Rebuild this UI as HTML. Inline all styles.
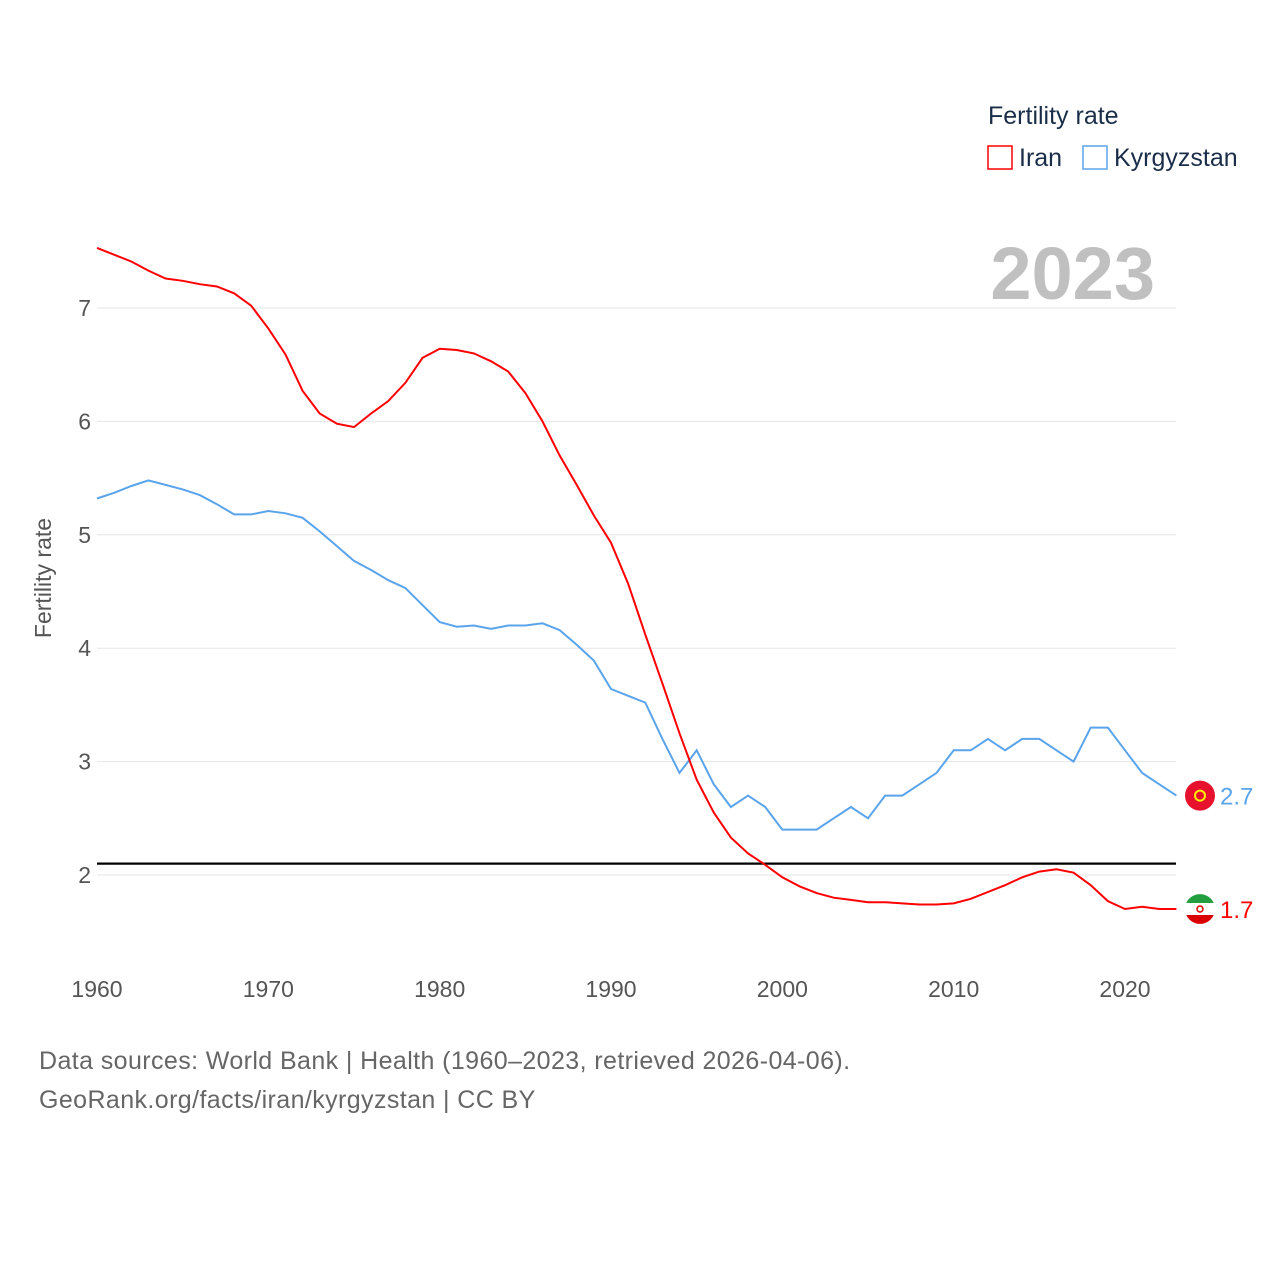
<!DOCTYPE html>
<html><head><meta charset="utf-8">
<style>
body{margin:0;background:#fff;}
svg text{font-family:"Liberation Sans",sans-serif;}
</style></head>
<body>
<svg id="chart" width="1280" height="1280" viewBox="0 0 1280 1280">
<g>
<text x="988" y="124" font-size="25" fill="#1a2e4a">Fertility rate</text>
<rect x="988" y="146" width="24" height="23" fill="none" stroke="#ff0000" stroke-width="1.5"/>
<text x="1019" y="166" font-size="25" fill="#1a2e4a">Iran</text>
<rect x="1083" y="146" width="24" height="23" fill="none" stroke="#5aa4ec" stroke-width="1.5"/>
<text x="1114" y="166" font-size="25" fill="#1a2e4a">Kyrgyzstan</text>
</g>
<text x="1155" y="299" font-size="74" font-weight="bold" fill="#c0c0c0" text-anchor="end">2023</text>
<g id="grid"></g>
<g id="axes"></g>
<g id="series"></g>
<text transform="translate(51,578) rotate(-90)" font-size="23" fill="#555" text-anchor="middle">Fertility rate</text>
<text x="39" y="1069" font-size="25" fill="#666" letter-spacing="0.4">Data sources: World Bank | Health (1960–2023, retrieved 2026-04-06).</text>
<text x="39" y="1108" font-size="25" fill="#666" letter-spacing="0.4">GeoRank.org/facts/iran/kyrgyzstan | CC BY</text>
</svg>
<script>
const years = [];for(let y=1960;y<=2023;y++)years.push(y);
const iranValues=[7.53,7.47,7.41,7.33,7.26,7.24,7.21,7.19,7.13,7.02,6.82,6.59,6.27,6.07,5.98,5.95,6.07,6.18,6.34,6.56,6.64,6.63,6.6,6.53,6.44,6.25,6.0,5.7,5.44,5.17,4.93,4.57,4.12,3.69,3.25,2.84,2.55,2.33,2.19,2.09,1.98,1.9,1.84,1.8,1.78,1.76,1.76,1.75,1.74,1.74,1.75,1.79,1.85,1.91,1.98,2.03,2.05,2.02,1.91,1.77,1.7,1.72,1.7,1.7];
const kyrValues=[5.32,5.37,5.43,5.48,5.44,5.4,5.35,5.27,5.18,5.18,5.21,5.19,5.15,5.03,4.9,4.77,4.69,4.6,4.53,4.38,4.23,4.19,4.2,4.17,4.2,4.2,4.22,4.16,4.03,3.89,3.64,3.58,3.52,3.2,2.9,3.1,2.8,2.6,2.7,2.6,2.4,2.4,2.4,2.5,2.6,2.5,2.7,2.7,2.8,2.9,3.1,3.1,3.2,3.1,3.2,3.2,3.1,3.0,3.3,3.3,3.1,2.9,2.8,2.7];
const yTicks=[2,3,4,5,6,7];
const xTicks=[1960,1970,1980,1990,2000,2010,2020];
const replacementRate=[2.1];
const NS="http://www.w3.org/2000/svg";
const xs=y=>97+(y-1960)*(1028/60);
const ys=v=>875-(v-2)*113.4;
function mk(tag,attrs,parent,text){const e=document.createElementNS(NS,tag);for(const k in attrs)e.setAttribute(k,attrs[k]);if(text!==undefined)e.textContent=text;document.getElementById(parent).appendChild(e);return e;}
yTicks.forEach(t=>{
 const l=mk('line',{x1:97,x2:1176,y1:ys(t),y2:ys(t),stroke:'#e6e6e6','stroke-width':1},'grid');
 
 
 const tx=mk('text',{x:91,y:ys(t)+8,'font-size':23,fill:'#555','text-anchor':'end'},'axes',String(t));
 
 
});
xTicks.forEach(t=>{
 const tx=mk('text',{x:xs(t),y:997,'font-size':23,fill:'#555','text-anchor':'middle'},'axes',String(t));
 
 
});
replacementRate.forEach(v=>{
 const l=mk('line',{x1:97,x2:1176,y1:ys(v),y2:ys(v),stroke:'#000','stroke-width':2.2},'series');
 
 
});
function series(vals,color,name){
 const d=vals.map((v,i)=>(i?'L':'M')+xs(years[i]).toFixed(1)+' '+ys(v).toFixed(1)).join(' ');
 const p=mk('path',{d:d,fill:'none',stroke:color,'stroke-width':2},'series');
 
 
 const last=vals[vals.length-1];
 const cy=ys(last);
 const c=mk('circle',{cx:1200,cy:cy,r:15,fill:name==='iran'?'#fff':'#e8112d'},'series');
 
 
 if(name==='iran'){
  const g=mk('path',{d:`M1186.3 ${cy-6} A15 15 0 0 1 1213.7 ${cy-6} Z`,fill:'#239f40'},'series');
  
  
  const r=mk('path',{d:`M1186.3 ${cy+6} A15 15 0 0 0 1213.7 ${cy+6} Z`,fill:'#da0000'},'series');
  
  
  const e=mk('circle',{cx:1200,cy:cy,r:3,fill:'none',stroke:'#da0000','stroke-width':1.5},'series');
  
  
 } else {
  const s=mk('circle',{cx:1200,cy:cy,r:5,fill:'none',stroke:'#ffef00','stroke-width':2},'series');
  
  
 }
 const t=mk('text',{x:1220,y:cy+9,'font-size':24,fill:color},'series',last.toFixed(1));
 
 
}
series(kyrValues,'#5aa4ec','kyrgyzstan');
series(iranValues,'#ff0000','iran');
</script>
</body></html>
